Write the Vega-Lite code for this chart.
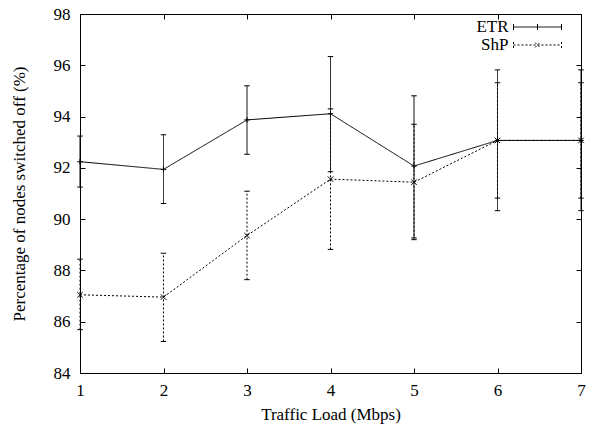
{
  "$schema": "https://vega.github.io/schema/vega-lite/v6.json",
  "width": 501,
  "height": 359,
  "autosize": "none",
  "padding": {"left": 80, "top": 14, "right": 8, "bottom": 60},
  "background": "white",
  "data": {
    "values": [
      {"series": "ETR", "load": 1, "mean": 92.24, "lo": 91.25, "hi": 93.24},
      {"series": "ETR", "load": 2, "mean": 91.94, "lo": 90.61, "hi": 93.29},
      {"series": "ETR", "load": 3, "mean": 93.87, "lo": 92.53, "hi": 95.20},
      {"series": "ETR", "load": 4, "mean": 94.11, "lo": 91.85, "hi": 96.34},
      {"series": "ETR", "load": 5, "mean": 92.07, "lo": 89.27, "hi": 94.81},
      {"series": "ETR", "load": 6, "mean": 93.07, "lo": 90.33, "hi": 95.82},
      {"series": "ETR", "load": 7, "mean": 93.07, "lo": 90.33, "hi": 95.82},
      {"series": "ShP", "load": 1, "mean": 87.05, "lo": 85.69, "hi": 88.44},
      {"series": "ShP", "load": 2, "mean": 86.96, "lo": 85.23, "hi": 88.67},
      {"series": "ShP", "load": 3, "mean": 89.36, "lo": 87.64, "hi": 91.09},
      {"series": "ShP", "load": 4, "mean": 91.56, "lo": 88.82, "hi": 94.30},
      {"series": "ShP", "load": 5, "mean": 91.44, "lo": 89.20, "hi": 93.70},
      {"series": "ShP", "load": 6, "mean": 93.07, "lo": 90.82, "hi": 95.32},
      {"series": "ShP", "load": 7, "mean": 93.07, "lo": 90.82, "hi": 95.32}
    ]
  },
  "config": {
    "view": {"stroke": "black", "strokeWidth": 1},
    "font": "Liberation Serif",
    "axis": {
      "grid": false,
      "domain": false,
      "tickSize": -5,
      "tickColor": "black",
      "tickWidth": 1,
      "labelFont": "Liberation Serif",
      "labelFontSize": 17,
      "labelColor": "black",
      "labelFlush": false,
      "titleFont": "Liberation Serif",
      "titleFontSize": 17,
      "titleFontWeight": "normal",
      "titleColor": "black"
    },
    "legend": {
      "orient": "none",
      "legendX": 449,
      "legendY": 4.5,
      "padding": 0,
      "rowPadding": 0,
      "symbolSize": 256,
      "symbolStrokeWidth": 1,
      "symbolStrokeColor": "black",
      "symbolFillColor": "transparent",
      "symbolOpacity": 1,
      "labelAlign": "right",
      "labelOffset": -37.5,
      "labelFont": "Liberation Serif",
      "labelFontSize": 17,
      "labelColor": "black"
    }
  },
  "layer": [
    {
      "mark": {"type": "rule", "color": "black", "strokeWidth": 1},
      "encoding": {
        "x": {
          "field": "load", "type": "quantitative",
          "scale": {"domain": [1, 7], "nice": false, "zero": false},
          "axis": {"orient": "bottom", "title": "Traffic Load (Mbps)", "values": [1, 2, 3, 4, 5, 6, 7], "labelPadding": 14, "titlePadding": 8}
        },
        "y": {
          "field": "lo", "type": "quantitative",
          "scale": {"domain": [84, 98], "nice": false, "zero": false},
          "axis": {"orient": "left", "title": "Percentage of nodes switched off (%)", "values": [84, 86, 88, 90, 92, 94, 96, 98], "labelPadding": 15, "titlePadding": 25}
        },
        "y2": {"field": "hi"},
        "strokeDash": {
          "field": "series", "type": "nominal",
          "scale": {"domain": ["ETR", "ShP"], "range": [[1, 0], [2, 2]]},
          "legend": {
            "title": null,
            "symbolType": "M-3,0L3,0M-3,-0.375L-3,0.375M3,-0.375L3,0.375M0,-0.375L0,0.375",
            "encoding": {
              "symbols": {
                "shape": {"value": {"expr": "datum.value === 'ETR' ? 'M-3,0L3,0M-3,-0.375L-3,0.375M3,-0.375L3,0.375M0,-0.375L0,0.375' : 'M-3,0L3,0M-3,-0.375L-3,0.375M3,-0.375L3,0.375M-0.3,-0.3L0.3,0.3M-0.3,0.3L0.3,-0.3'"}}
              }
            }
          }
        }
      }
    },
    {
      "mark": {"type": "point", "shape": "M-1,0L1,0", "size": 30, "filled": false, "color": "black", "strokeWidth": 1, "opacity": 1},
      "encoding": {
        "x": {"field": "load", "type": "quantitative", "axis": {"orient": "top", "labels": false, "title": null, "values": [1, 2, 3, 4, 5, 6, 7]}},
        "y": {"field": "lo", "type": "quantitative", "axis": {"orient": "right", "labels": false, "title": null, "values": [84, 86, 88, 90, 92, 94, 96, 98]}}
      }
    },
    {
      "mark": {"type": "point", "shape": "M-1,0L1,0", "size": 30, "filled": false, "color": "black", "strokeWidth": 1, "opacity": 1},
      "encoding": {
        "x": {"field": "load", "type": "quantitative", "axis": null},
        "y": {"field": "hi", "type": "quantitative", "axis": null}
      }
    },
    {
      "mark": {"type": "line", "color": "black", "strokeWidth": 1},
      "encoding": {
        "x": {"field": "load", "type": "quantitative", "axis": null},
        "y": {"field": "mean", "type": "quantitative", "axis": null},
        "strokeDash": {"field": "series", "type": "nominal"}
      }
    },
    {
      "transform": [{"filter": "datum.series === 'ETR'"}],
      "mark": {"type": "point", "shape": "M-1,0L1,0M0,-1L0,1", "filled": false, "color": "black", "strokeWidth": 1, "size": 30, "opacity": 1},
      "encoding": {
        "x": {"field": "load", "type": "quantitative", "axis": null},
        "y": {"field": "mean", "type": "quantitative", "axis": null}
      }
    },
    {
      "transform": [{"filter": "datum.series === 'ShP'"}],
      "mark": {"type": "point", "shape": "M-1,-1L1,1M-1,1L1,-1", "filled": false, "color": "black", "strokeWidth": 1, "size": 30, "opacity": 1},
      "encoding": {
        "x": {"field": "load", "type": "quantitative", "axis": null},
        "y": {"field": "mean", "type": "quantitative", "axis": null}
      }
    }
  ],
  "resolve": {"axis": {"x": "independent", "y": "independent"}}
}
